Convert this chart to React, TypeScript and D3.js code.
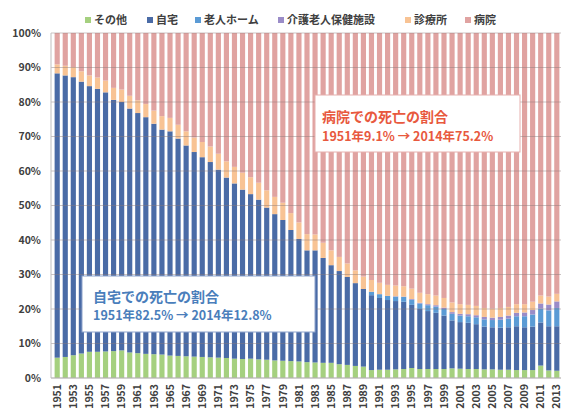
import React from 'react';
import * as d3 from 'd3';

// 死亡の場所別 死亡数百分率 (1951-2013)
const years = d3.range(1951, 2014).map(String);

const sonota = [5.9, 6.1, 6.6, 7.1, 7.6, 7.6, 7.7, 7.8, 8.0, 7.4, 7.2, 7.0, 6.9, 6.8, 6.5, 6.4, 6.3, 6.2, 6.1, 6.0,
  5.9, 5.8, 5.6, 5.5, 5.6, 5.4, 5.3, 5.1, 5.0, 4.9, 4.8, 4.6, 4.5, 4.4, 4.4, 4.0, 3.8, 3.5, 3.3, 2.3,
  2.4, 2.4, 2.5, 2.6, 2.9, 2.6, 2.6, 2.6, 2.6, 2.8, 2.7, 2.6, 2.6, 2.5, 2.5, 2.4, 2.4, 2.3, 2.3, 2.3,
  3.6, 2.2, 2.1];
const jitaku = [82.5, 81.6, 80.6, 78.8, 77.0, 76.2, 75.1, 72.8, 72.0, 70.7, 69.6, 68.6, 66.8, 65.2, 65.0, 63.0, 61.1, 59.3, 57.9, 56.6,
  54.5, 52.3, 50.8, 49.1, 47.7, 46.3, 44.1, 42.4, 40.8, 38.0, 35.5, 32.4, 32.5, 30.4, 28.3, 27.0, 25.5, 24.0, 22.5, 21.7,
  20.8, 20.2, 19.8, 19.5, 18.3, 17.4, 16.8, 16.3, 15.5, 13.9, 13.5, 13.4, 13.0, 12.4, 12.2, 12.2, 12.3, 12.7, 12.4, 12.6,
  12.5, 12.8, 12.9];
const rojinHome = [0, 0, 0, 0, 0, 0, 0, 0, 0, 0, 0, 0, 0, 0, 0, 0, 0, 0, 0, 0,
  0, 0, 0, 0, 0, 0, 0, 0, 0, 0, 0, 0, 0, 0, 0, 0, 0, 0, 0, 1.0,
  1.1, 1.2, 1.3, 1.4, 1.5, 1.6, 1.7, 1.8, 1.9, 1.9, 1.9, 1.9, 2.0, 2.1, 2.1, 2.3, 2.5, 2.9, 3.2, 3.5,
  4.0, 4.6, 5.3];
const roken = [0, 0, 0, 0, 0, 0, 0, 0, 0, 0, 0, 0, 0, 0, 0, 0, 0, 0, 0, 0,
  0, 0, 0, 0, 0, 0, 0, 0, 0, 0, 0, 0, 0, 0, 0, 0, 0, 0, 0, 0,
  0, 0, 0.1, 0.1, 0.2, 0.2, 0.3, 0.4, 0.4, 0.5, 0.5, 0.6, 0.6, 0.7, 0.7, 0.8, 0.9, 1.0, 1.1, 1.3,
  1.5, 1.7, 1.9];
const shinryojo = [2.6, 2.8, 2.9, 3.0, 3.1, 3.3, 3.4, 3.5, 3.6, 3.7, 3.7, 3.8, 3.8, 3.9, 3.9, 4.0, 4.1, 4.2, 4.4, 4.5,
  4.6, 4.7, 4.8, 4.9, 4.9, 4.9, 5.0, 5.0, 5.0, 4.9, 4.8, 4.7, 4.6, 4.4, 4.3, 4.1, 3.9, 3.7, 3.6, 3.4,
  3.3, 3.2, 3.1, 3.0, 3.0, 2.9, 2.9, 2.8, 2.8, 2.8, 2.8, 2.7, 2.7, 2.6, 2.6, 2.6, 2.5, 2.5, 2.4, 2.4,
  2.3, 2.3, 2.2];
const byoin = [9.1, 9.5, 9.9, 11.1, 12.3, 12.9, 13.8, 15.9, 16.4, 18.2, 19.5, 20.6, 22.5, 24.1, 24.6, 26.6, 28.5, 30.3, 31.6, 32.9,
  35.0, 37.2, 38.8, 40.5, 41.8, 43.4, 45.6, 47.5, 49.2, 52.2, 54.9, 58.3, 58.4, 60.8, 63.0, 64.9, 66.8, 68.8, 70.6, 71.6,
  72.4, 73.0, 73.2, 73.4, 74.1, 75.3, 75.7, 76.1, 76.8, 78.1, 78.6, 78.8, 79.1, 79.7, 79.9, 79.7, 79.4, 78.6, 78.6, 77.9,
  76.1, 76.4, 75.6];

const seriesNames = ['その他', '自宅', '老人ホーム', '介護老人保健施設', '診療所', '病院'];
const seriesValues = [sonota, jitaku, rojinHome, roken, shinryojo, byoin];
const colors = ['#a5d07f', '#4a6ba6', '#5b9bd5', '#9a8cc8', '#f8c394', '#e0a3a1'];
const yTicks = [0, 0.1, 0.2, 0.3, 0.4, 0.5, 0.6, 0.7, 0.8, 0.9, 1];

const W = 563;
const H = 414;
const margin = { top: 33, right: 2, bottom: 36, left: 53 };
const FONT = '"Noto Sans CJK JP", "Noto Sans", sans-serif';

const rows = years.map((y, i) => {
  const r: Record<string, number | string> = { year: y };
  seriesNames.forEach((n, k) => { r[n] = seriesValues[k][i]; });
  return r;
});

export default function App() {
  const x = d3.scaleBand<string>()
    .domain(years)
    .range([margin.left, W - margin.right])
    .paddingInner(0.36)
    .paddingOuter(0.2);
  const y = d3.scaleLinear().domain([0, 1]).range([H - margin.bottom, margin.top]);

  const stack = d3.stack<Record<string, number | string>>()
    .keys(seriesNames)
    .value((d, k) => d[k] as number)
    .offset(d3.stackOffsetExpand);
  const layers = stack(rows);

  const legendX = [85, 147, 195, 278, 405, 465];

  return (
    <svg width={W} height={H} style={{ position: 'absolute', left: 0, top: 0, background: '#fff' }}
      fontFamily={FONT}>
      {/* bars */}
      {layers.map((layer, k) => (
        <g key={seriesNames[k]} fill={colors[k]}>
          {layer.map((d, i) => (
            <rect key={i} x={x(years[i])} width={x.bandwidth()}
              y={y(d[1])} height={Math.max(0, y(d[0]) - y(d[1]))} />
          ))}
        </g>
      ))}

      {/* grid lines */}
      {yTicks.map(t => (
        <line key={t} x1={margin.left - 2} x2={W - margin.right} y1={y(t)} y2={y(t)}
          stroke="#8a7a7a" strokeOpacity={0.45} strokeWidth={1} />
      ))}
      <line x1={margin.left - 2} x2={margin.left - 2} y1={y(1)} y2={y(0)} stroke="#bfbfbf" />
      <line x1={margin.left - 2} x2={W - margin.right} y1={y(0)} y2={y(0)} stroke="#bfbfbf" />

      {/* y labels */}
      {yTicks.map(t => (
        <text key={t} x={41} y={y(t)} dy="0.35em" textAnchor="end" fontSize={10.5}
          fontWeight="bold" fill="#404040">{d3.format('.0%')(t)}</text>
      ))}

      {/* x labels */}
      {years.filter((_, i) => i % 2 === 0).map(yr => (
        <text key={yr} transform={`translate(${x(yr)! + x.bandwidth() / 2},${y(0) + 6}) rotate(-90)`}
          dy="0.35em" textAnchor="end" fontSize={10.5} fontWeight="bold" fill="#404040">{yr}</text>
      ))}

      {/* legend */}
      {seriesNames.map((n, k) => (
        <g key={n} transform={`translate(${legendX[k]},20)`}>
          <rect x={0} y={-3} width={6} height={6} fill={colors[k]} />
          <text x={9} y={0} dy="0.35em" fontSize={11} fontWeight="bold" fill="#404040">{n}</text>
        </g>
      ))}

      {/* annotations */}
      <g>
        <rect x={315} y={95} width={205} height={57} fill="#fff" stroke="#e6b0ae" />
        <text x={322} y={122} fontSize={14} fontWeight="bold" fill="#e8593e">病院での死亡の割合</text>
        <text x={322} y={141} fontSize={12.5} fontWeight="bold" fill="#e8593e">1951年9.1% → 2014年75.2%</text>
      </g>
      <g>
        <rect x={82} y={276} width={233} height={56} fill="#fff" stroke="#8da3cc" />
        <text x={93} y={302} fontSize={14} fontWeight="bold" fill="#4a7ebb">自宅での死亡の割合</text>
        <text x={93} y={320} fontSize={12.5} fontWeight="bold" fill="#4a7ebb">1951年82.5% → 2014年12.8%</text>
      </g>
    </svg>
  );
}
